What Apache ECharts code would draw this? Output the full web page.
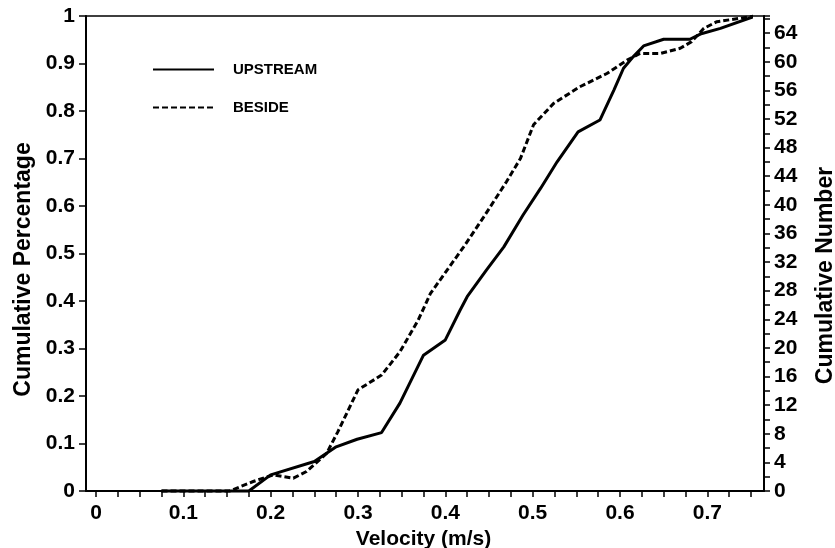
<!DOCTYPE html>
<html>
<head>
<meta charset="utf-8">
<script src="https://cdn.jsdelivr.net/npm/echarts@6/dist/echarts.min.js"></script>
<style>
  html, body { margin: 0; padding: 0; background: #fff; }
  #chart { width: 835px; height: 548px; }
</style>
</head>
<body>
<div id="chart"></div>
<script>
// velocity (m/s) and cumulative percentage
var upstreamVel = [0.075, 0.175, 0.2, 0.25, 0.275, 0.299, 0.327, 0.348, 0.375, 0.4, 0.417, 0.425, 0.447, 0.467, 0.489, 0.509, 0.528, 0.552, 0.577, 0.593, 0.604, 0.615, 0.627, 0.65, 0.68, 0.692, 0.715, 0.755];
var upstreamPct = [0, 0, 0.034, 0.062, 0.093, 0.109, 0.123, 0.185, 0.286, 0.318, 0.381, 0.409, 0.465, 0.514, 0.581, 0.637, 0.693, 0.756, 0.781, 0.844, 0.89, 0.914, 0.937, 0.951, 0.951, 0.962, 0.974, 1];
var besideVel = [0.075, 0.153, 0.18, 0.203, 0.226, 0.241, 0.264, 0.277, 0.3, 0.327, 0.348, 0.369, 0.383, 0.402, 0.421, 0.444, 0.47, 0.486, 0.501, 0.524, 0.554, 0.585, 0.608, 0.623, 0.646, 0.669, 0.682, 0.696, 0.711, 0.755];
var besidePct = [0, 0, 0.02, 0.034, 0.027, 0.041, 0.079, 0.125, 0.213, 0.244, 0.293, 0.36, 0.416, 0.465, 0.514, 0.577, 0.651, 0.7, 0.771, 0.816, 0.851, 0.879, 0.907, 0.921, 0.921, 0.932, 0.946, 0.974, 0.988, 1];
var seriesNames = ['UPSTREAM', 'BESIDE'];
var cumulativeMax = 66.4;

function pairs(xs, ys) {
  return xs.map(function (x, i) { return [x, ys[i]]; });
}

var font = 'Liberation Sans, Arial, sans-serif';
var frameLine = { show: true, onZero: false, lineStyle: { color: '#000', width: 2 } };

var myChart = echarts.init(document.getElementById('chart'));
var option = {
  backgroundColor: '#fff',
  animation: false,
  textStyle: { fontFamily: font, color: '#000' },
  grid: [
    { left: 86, right: 71, top: 16, bottom: 57, containLabel: false, outerBoundsMode: 'none' },
    { left: 96, right: 84, top: 16, bottom: 57, containLabel: false, outerBoundsMode: 'none' }
  ],
  legend: {
    orient: 'vertical',
    left: 152,
    top: 62,
    padding: 0,
    itemWidth: 61,
    itemHeight: 14,
    itemGap: 23,
    data: seriesNames,
    itemStyle: { opacity: 0 },
    textStyle: { fontFamily: font, fontSize: 15, fontWeight: 'bold', color: '#000', padding: [0, 0, 0, 14] }
  },
  xAxis: [
    {
      type: 'value', gridIndex: 0, min: 0, max: 1, position: 'bottom',
      axisLine: frameLine, axisTick: { show: false }, axisLabel: { show: false }, splitLine: { show: false }
    },
    {
      type: 'value', gridIndex: 0, min: 0, max: 1, position: 'top',
      axisLine: { show: true, onZero: false, lineStyle: { color: '#000', width: 1.5 } },
      axisTick: { show: false }, axisLabel: { show: false }, splitLine: { show: false }
    },
    {
      type: 'value', gridIndex: 1, min: 0, max: 0.75, interval: 0.025, position: 'bottom',
      name: 'Velocity (m/s)', nameLocation: 'middle', nameGap: 33,
      nameTextStyle: { fontFamily: font, fontSize: 21, fontWeight: 'bold', color: '#000' },
      axisLine: { show: false, onZero: false },
      axisTick: { show: true, length: 6, lineStyle: { color: '#000', width: 1.5 } },
      axisLabel: {
        margin: 12, fontFamily: font, fontSize: 21, fontWeight: 'bold', color: '#000',
        formatter: function (v) {
          var r = Math.round(v * 40);
          return r % 4 === 0 ? String(r / 40) : '';
        }
      },
      splitLine: { show: false }
    }
  ],
  yAxis: [
    {
      type: 'value', gridIndex: 0, min: 0, max: 1, interval: 0.1, position: 'left',
      name: 'Cumulative Percentage', nameLocation: 'middle', nameGap: 50, nameRotate: 90,
      nameTextStyle: { fontFamily: font, fontSize: 23, fontWeight: 'bold', color: '#000', padding: [0, 32, 0, 0] },
      axisLine: frameLine,
      axisTick: { show: true, length: 7, lineStyle: { color: '#000', width: 1.5 } },
      axisLabel: { margin: 11, fontFamily: font, fontSize: 21, fontWeight: 'bold', color: '#000' },
      splitLine: { show: false }
    },
    {
      type: 'value', gridIndex: 0, min: 0, max: cumulativeMax, interval: 2, position: 'right',
      name: 'Cumulative Number', nameLocation: 'middle', nameGap: 50, nameRotate: 90,
      nameTextStyle: { fontFamily: font, fontSize: 23, fontWeight: 'bold', color: '#000', padding: [0, 44, 0, 0] },
      axisLine: frameLine,
      axisTick: { show: true, length: 6, lineStyle: { color: '#000', width: 1.5 } },
      axisLabel: {
        margin: 10, fontFamily: font, fontSize: 21, fontWeight: 'bold', color: '#000',
        formatter: function (v) { return v % 4 === 0 ? String(v) : ''; }
      },
      splitLine: { show: false }
    },
    { type: 'value', gridIndex: 1, min: 0, max: 1, show: false }
  ],
  series: [
    {
      name: seriesNames[0], type: 'line', xAxisIndex: 2, yAxisIndex: 2,
      symbol: 'none', color: '#000', clip: false,
      lineStyle: { color: '#000', width: 3 },
      data: pairs(upstreamVel, upstreamPct)
    },
    {
      name: seriesNames[1], type: 'line', xAxisIndex: 2, yAxisIndex: 2,
      symbol: 'none', color: '#000', clip: false,
      lineStyle: { color: '#000', width: 3, type: [6, 3] },
      data: pairs(besideVel, besidePct)
    }
  ]
};
myChart.setOption(option);
</script>
</body>
</html>
